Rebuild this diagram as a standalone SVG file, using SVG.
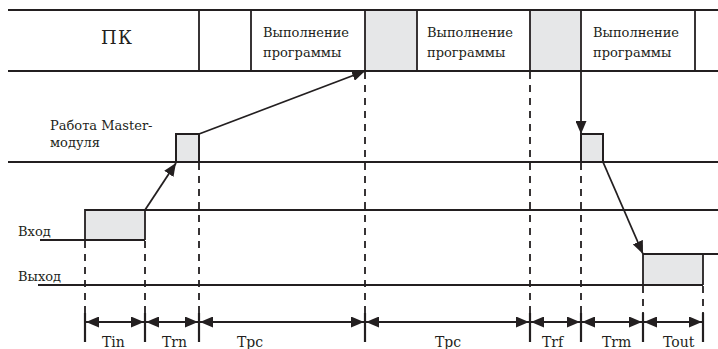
<svg xmlns="http://www.w3.org/2000/svg" width="718" height="349" viewBox="0 0 718 349">
<style>
.ln{stroke:#231f20;stroke-width:1.8;fill:none}
.bx{stroke:#231f20;stroke-width:2;fill:#e6e7e8}
.ds{stroke:#231f20;stroke-width:1.8;stroke-dasharray:7,6;fill:none}
.tk{stroke:#231f20;stroke-width:2.2;fill:none}
.ar{stroke:#231f20;stroke-width:1.8;fill:none}
.t{font-family:"DejaVu Serif","Liberation Serif",serif;font-size:13px;fill:#231f20}
.tl{font-family:"DejaVu Serif","Liberation Serif",serif;font-size:14px;fill:#231f20}
.tpk{font-family:"DejaVu Serif","Liberation Serif",serif;font-size:18px;fill:#231f20}
</style>
<defs>
<marker id="ah" viewBox="0 0 13 11" refX="13" refY="5.5" markerWidth="13" markerHeight="11" markerUnits="userSpaceOnUse" orient="auto-start-reverse">
<path d="M0,0 L13,5.5 L0,11 Z" fill="#231f20"/>
</marker>
</defs>
<rect width="718" height="349" fill="#fff"/>

<g id="pc-band">
<rect x="365" y="10" width="52" height="61" fill="#e6e7e8"/>
<rect x="530" y="10" width="51" height="61" fill="#e6e7e8"/>
<line class="ln" x1="8" y1="10" x2="718" y2="10"/>
<line class="ln" x1="8" y1="71" x2="718" y2="71"/>
<line class="ln" x1="199" y1="10" x2="199" y2="71"/>
<line class="ln" x1="251" y1="10" x2="251" y2="71"/>
<line class="ln" x1="365" y1="10" x2="365" y2="71"/>
<line class="ln" x1="417" y1="10" x2="417" y2="71"/>
<line class="ln" x1="530" y1="10" x2="530" y2="71"/>
<line class="ln" x1="581" y1="10" x2="581" y2="71"/>
<line class="ln" x1="695" y1="10" x2="695" y2="71"/>
<text class="tpk" x="101" y="44" textLength="31">ПК</text>
<text class="t" x="263" y="37">Выполнение</text>
<text class="t" x="263" y="57">программы</text>
<text class="t" x="427" y="37">Выполнение</text>
<text class="t" x="427" y="57">программы</text>
<text class="t" x="593" y="37">Выполнение</text>
<text class="t" x="593" y="57">программы</text>
</g>

<g id="master-row">
<line class="ln" x1="8" y1="162" x2="718" y2="162"/>
<rect class="bx" x="176" y="134" width="23" height="28"/>
<rect class="bx" x="581" y="134" width="22" height="28"/>
<text class="t" x="50" y="130">Работа Master-</text>
<text class="t" x="50" y="147">модуля</text>
</g>

<g id="input-row">
<rect x="85" y="210" width="60" height="30" fill="#e6e7e8"/>
<polyline class="ln" points="40,240 145,240"/>
<polyline class="ln" points="85,240 85,210 718,210"/>
<line class="ln" x1="145" y1="210" x2="145" y2="240"/>
<text class="t" x="18" y="236">Вход</text>
</g>

<g id="output-row">
<rect x="643" y="254" width="60" height="31" fill="#e6e7e8"/>
<polyline class="ln" points="38,285 703,285"/>
<polyline class="ln" points="643,285 643,254 718,254"/>
<line class="ln" x1="703" y1="254" x2="703" y2="285"/>
<text class="t" x="18" y="281">Выход</text>
</g>

<g id="connectors">
<line class="ar" x1="145" y1="210" x2="176" y2="163" marker-end="url(#ah)"/>
<line class="ar" x1="199" y1="134" x2="365" y2="71" marker-end="url(#ah)"/>
<line class="ar" x1="581" y1="71" x2="581" y2="134" marker-end="url(#ah)"/>
<line class="ar" x1="603" y1="162" x2="643" y2="254" marker-end="url(#ah)"/>
<line class="ds" x1="85" y1="241" x2="85" y2="313"/>
<line class="ds" x1="145" y1="241" x2="145" y2="313"/>
<line class="ds" x1="199" y1="163" x2="199" y2="313"/>
<line class="ds" x1="365" y1="72" x2="365" y2="313"/>
<line class="ds" x1="530" y1="72" x2="530" y2="313"/>
<line class="ds" x1="581" y1="163" x2="581" y2="313"/>
<line class="ds" x1="643" y1="286" x2="643" y2="313"/>
<line class="ds" x1="703" y1="286" x2="703" y2="313"/>
</g>

<g id="dimensions">
<line class="tk" x1="85" y1="313" x2="85" y2="342"/>
<line class="tk" x1="145" y1="313" x2="145" y2="342"/>
<line class="tk" x1="199" y1="313" x2="199" y2="342"/>
<line class="tk" x1="365" y1="313" x2="365" y2="342"/>
<line class="tk" x1="530" y1="313" x2="530" y2="342"/>
<line class="tk" x1="581" y1="313" x2="581" y2="342"/>
<line class="tk" x1="643" y1="313" x2="643" y2="342"/>
<line class="tk" x1="703" y1="313" x2="703" y2="342"/>
<line class="ar" x1="86" y1="322" x2="144" y2="322" marker-start="url(#ah)" marker-end="url(#ah)"/>
<line class="ar" x1="146" y1="322" x2="198" y2="322" marker-start="url(#ah)" marker-end="url(#ah)"/>
<line class="ar" x1="200" y1="322" x2="364" y2="322" marker-start="url(#ah)" marker-end="url(#ah)"/>
<line class="ar" x1="366" y1="322" x2="529" y2="322" marker-start="url(#ah)" marker-end="url(#ah)"/>
<line class="ar" x1="531" y1="322" x2="580" y2="322" marker-start="url(#ah)" marker-end="url(#ah)"/>
<line class="ar" x1="582" y1="322" x2="642" y2="322" marker-start="url(#ah)" marker-end="url(#ah)"/>
<line class="ar" x1="644" y1="322" x2="702" y2="322" marker-start="url(#ah)" marker-end="url(#ah)"/>
<text class="tl" x="102" y="347">Tin</text>
<text class="tl" x="162" y="347">Trn</text>
<text class="tl" x="237" y="347">Tpc</text>
<text class="tl" x="435" y="347">Tpc</text>
<text class="tl" x="542" y="347">Trf</text>
<text class="tl" x="602" y="347">Trm</text>
<text class="tl" x="663" y="347">Tout</text>
</g>
</svg>
